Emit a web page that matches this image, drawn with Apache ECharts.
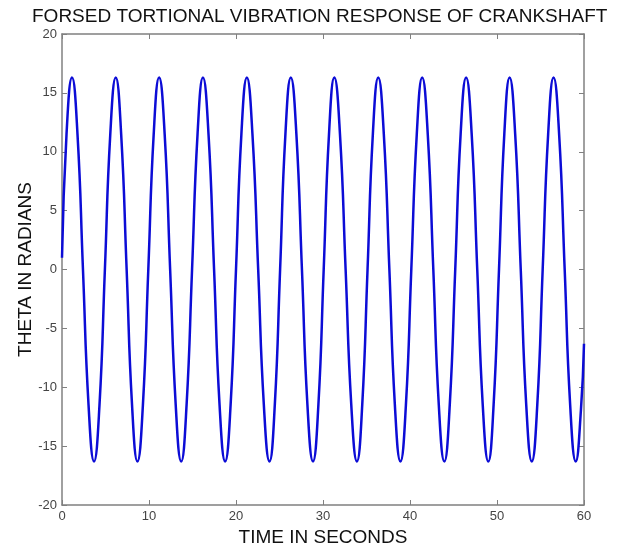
<!DOCTYPE html>
<html>
<head>
<meta charset="utf-8">
<script src="https://cdn.jsdelivr.net/npm/echarts@6/dist/echarts.min.js"></script>
<style>
  html, body { margin: 0; padding: 0; background: #fff; }
  #chart { width: 627px; height: 552px; }
</style>
</head>
<body>
<div id="chart"></div>
<script>
// values
const timeSec = [
  0, 0.52, 1.15, 1.78, 2.41, 3.05, 3.68, 4.31, 4.93,
  5.55, 6.18, 6.80, 7.43, 8.05, 8.67, 9.30, 9.92,
  10.54, 11.16, 11.80, 12.43, 13.07, 13.70, 14.32, 14.95,
  15.58, 16.20, 16.84, 17.48, 18.11, 18.75, 19.38, 20.00,
  20.62, 21.25, 21.89, 22.55, 23.20, 23.85, 24.46, 25.07,
  25.68, 26.30, 26.94, 27.58, 28.21, 28.85, 29.47, 30.08,
  30.69, 31.30, 31.95, 32.60, 33.25, 33.90, 34.51, 35.12,
  35.73, 36.35, 36.99, 37.63, 38.26, 38.90, 39.53, 40.15,
  40.78, 41.40, 42.04, 42.68, 43.31, 43.95, 44.57, 45.20,
  45.82, 46.45, 47.09, 47.73, 48.36, 49.00, 49.61, 50.23,
  50.84, 51.45, 52.09, 52.73, 53.36, 54.00, 54.63, 55.25,
  55.88, 56.50, 57.14, 57.78, 58.41, 59.05, 59.65, 60.00
];
const thetaRad = [
  1.0, 11.5, 16.3, 11.5, 0, -11.5, -16.3, -11.5, 0,
  11.5, 16.3, 11.5, 0, -11.5, -16.3, -11.5, 0,
  11.5, 16.3, 11.5, 0, -11.5, -16.3, -11.5, 0,
  11.5, 16.3, 11.5, 0, -11.5, -16.3, -11.5, 0,
  11.5, 16.3, 11.5, 0, -11.5, -16.3, -11.5, 0,
  11.5, 16.3, 11.5, 0, -11.5, -16.3, -11.5, 0,
  11.5, 16.3, 11.5, 0, -11.5, -16.3, -11.5, 0,
  11.5, 16.3, 11.5, 0, -11.5, -16.3, -11.5, 0,
  11.5, 16.3, 11.5, 0, -11.5, -16.3, -11.5, 0,
  11.5, 16.3, 11.5, 0, -11.5, -16.3, -11.5, 0,
  11.5, 16.3, 11.5, 0, -11.5, -16.3, -11.5, 0,
  11.5, 16.3, 11.5, 0, -11.5, -16.3, -11.9, -6.3
];
const xTicks = [0, 10, 20, 30, 40, 50, 60];
const yTicks = [-20, -15, -10, -5, 0, 5, 10, 15, 20];

const font = 'Liberation Sans, Arial, sans-serif';
const axisGray = '#808080';

const chart = echarts.init(document.getElementById('chart'));

const tickStyle = { show: true, inside: true, length: 5, lineStyle: { color: axisGray, width: 1 } };
const lineStyle = { onZero: false, lineStyle: { color: axisGray, width: 1.5 } };

chart.setOption({
  backgroundColor: '#ffffff',
  animation: false,
  title: {
    text: 'FORSED TORTIONAL VIBRATION RESPONSE OF CRANKSHAFT',
    left: 27,
    top: 2,
    textStyle: { fontFamily: font, fontSize: 19, fontWeight: 'normal', color: '#111' }
  },
  grid: { left: 62, right: 43, top: 34, bottom: 43 },
  xAxis: [
    {
      type: 'value',
      min: xTicks[0],
      max: xTicks[xTicks.length - 1],
      interval: 10,
      name: 'TIME IN SECONDS',
      nameLocation: 'middle',
      nameGap: 23,
      nameMoveOverlap: false,
      nameTextStyle: { fontFamily: font, fontSize: 19, color: '#111' },
      axisLine: lineStyle,
      axisTick: tickStyle,
      axisLabel: { fontFamily: font, fontSize: 13, color: '#444', margin: 5 },
      splitLine: { show: false }
    },
    {
      type: 'value',
      position: 'top',
      min: xTicks[0],
      max: xTicks[xTicks.length - 1],
      interval: 10,
      axisLine: lineStyle,
      axisTick: tickStyle,
      axisLabel: { show: false },
      splitLine: { show: false }
    }
  ],
  yAxis: [
    {
      type: 'value',
      min: yTicks[0],
      max: yTicks[yTicks.length - 1],
      interval: 5,
      name: 'THETA IN RADIANS',
      nameLocation: 'middle',
      nameGap: 27,
      nameMoveOverlap: false,
      nameTextStyle: { fontFamily: font, fontSize: 19, color: '#111' },
      axisLine: lineStyle,
      axisTick: tickStyle,
      axisLabel: { fontFamily: font, fontSize: 13, color: '#444', margin: 5 },
      splitLine: { show: false }
    },
    {
      type: 'value',
      position: 'right',
      min: yTicks[0],
      max: yTicks[yTicks.length - 1],
      interval: 5,
      axisLine: lineStyle,
      axisTick: tickStyle,
      axisLabel: { show: false },
      splitLine: { show: false }
    }
  ],
  series: [
    {
      type: 'line',
      data: timeSec.map((t, i) => [t, thetaRad[i]]),
      smooth: 0.5,
      showSymbol: false,
      lineStyle: { color: '#0c0cd6', width: 2.5 }
    }
  ]
});
</script>
</body>
</html>
